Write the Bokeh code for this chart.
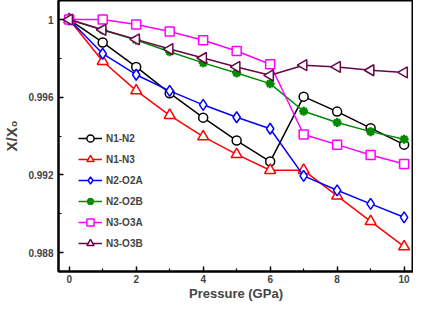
import math
from bokeh.plotting import figure
from bokeh.models import FixedTicker, Range1d, Legend, LegendItem
from bokeh.embed import file_html
from bokeh.resources import INLINE

pressure = [0, 1, 2, 3, 4, 5, 6, 7, 8, 9, 10]
n1_n2 = [1.0, 0.99882, 0.99756, 0.99621, 0.99495, 0.99377, 0.99269, 0.99603, 0.99526, 0.99441, 0.99356]
n1_n3 = [1.0, 0.99785, 0.99634, 0.99507, 0.99397, 0.99306, 0.99224, 0.99224, 0.99092, 0.98961, 0.98831]
n2_o2a = [1.0, 0.99824, 0.99716, 0.99633, 0.99561, 0.99497, 0.99438, 0.99195, 0.99121, 0.99051, 0.98982]
n2_o2b = [1.0, 0.99946, 0.99895, 0.99834, 0.99777, 0.99725, 0.99670, 0.99528, 0.99470, 0.99423, 0.99384]
n3_o3a = [1.0, 1.0000, 0.99974, 0.99938, 0.99893, 0.99838, 0.99770, 0.99408, 0.99356, 0.99303, 0.99256]
n3_o3b = [1.0, 0.99947, 0.99898, 0.99848, 0.99802, 0.99756, 0.99713, 0.99765, 0.99756, 0.99739, 0.99728]

x_major = [0, 2, 4, 6, 8, 10]
x_minor = [1, 3, 5, 7, 9]
y_major = [0.988, 0.992, 0.996, 1.0]
y_minor = [0.990, 0.994, 0.998]

series = [
    ("N1-N2", n1_n2, "black", "circle", 0.0, 9),
    ("N1-N3", n1_n3, "#ff0000", "triangle", 0.0, 11),
    ("N2-O2A", n2_o2a, "#0000ff", "diamond", 0.0, 11),
    ("N2-O2B", n2_o2b, "#008b00", "asterisk", 0.0, 9),
    ("N3-O3A", n3_o3a, "#ff00ff", "square", 0.0, 9),
    ("N3-O3B", n3_o3b, "#670748", "triangle", math.pi / 2, 11),
]

p = figure(width=413, height=303, output_backend="svg", toolbar_location=None,
           x_range=Range1d(-0.32, 10.28), y_range=Range1d(0.98703, 1.00098),
           min_border_left=30, min_border_right=0, min_border_top=0, min_border_bottom=0)
p.grid.visible = False
p.outline_line_color = "black"
p.outline_line_width = 2
p.background_fill_color = "white"

items = []
for name, vals, col, mk, ang, sz in series:
    r1 = p.line(pressure, vals, line_color=col, line_width=1.5)
    if mk == "asterisk":
        r2 = p.scatter(pressure, vals, marker="asterisk", size=sz, line_color=col, line_width=2.5)
    else:
        r2 = p.scatter(pressure, vals, marker=mk, size=sz, angle=ang, line_color=col,
                       fill_color="white", line_width=1.5)
    items.append(LegendItem(label=name, renderers=[r1, r2]))

legend = Legend(items=items, location=(20, 19), border_line_color=None,
                background_fill_alpha=0, label_text_font="Liberation Sans",
                label_text_font_style="bold", label_text_font_size="10px",
                glyph_width=24, glyph_height=18, label_height=18, spacing=3,
                padding=2, margin=0, label_standoff=4)
p.add_layout(legend, "center")

for ax in (p.xaxis[0], p.yaxis[0]):
    ax.axis_line_width = 2
    ax.major_tick_in = 5
    ax.major_tick_out = 0
    ax.minor_tick_in = 3
    ax.minor_tick_out = 0
    ax.major_tick_line_width = 1.5
    ax.minor_tick_line_width = 1.2
    ax.major_label_text_font = "Liberation Sans"
    ax.major_label_text_font_style = "bold"
    ax.major_label_text_font_size = "10px"
    ax.axis_label_text_font = "Liberation Sans"
    ax.axis_label_text_font_style = "bold"

p.xaxis.ticker = FixedTicker(ticks=x_major, minor_ticks=x_minor)
p.yaxis.ticker = FixedTicker(ticks=y_major, minor_ticks=y_minor)
p.yaxis.major_label_overrides = {1: "1", 1.0: "1"}
p.xaxis.axis_label = "Pressure (GPa)"
p.yaxis.axis_label = "X/X\u2080"
p.xaxis.axis_label_text_font_size = "13px"
p.yaxis.axis_label_text_font_size = "15px"
p.xaxis.major_label_standoff = 3
p.xaxis.axis_label_standoff = 0
p.yaxis.major_label_standoff = 5
p.yaxis.axis_label_standoff = 5

open("out.html", "w").write(file_html(p, INLINE))
